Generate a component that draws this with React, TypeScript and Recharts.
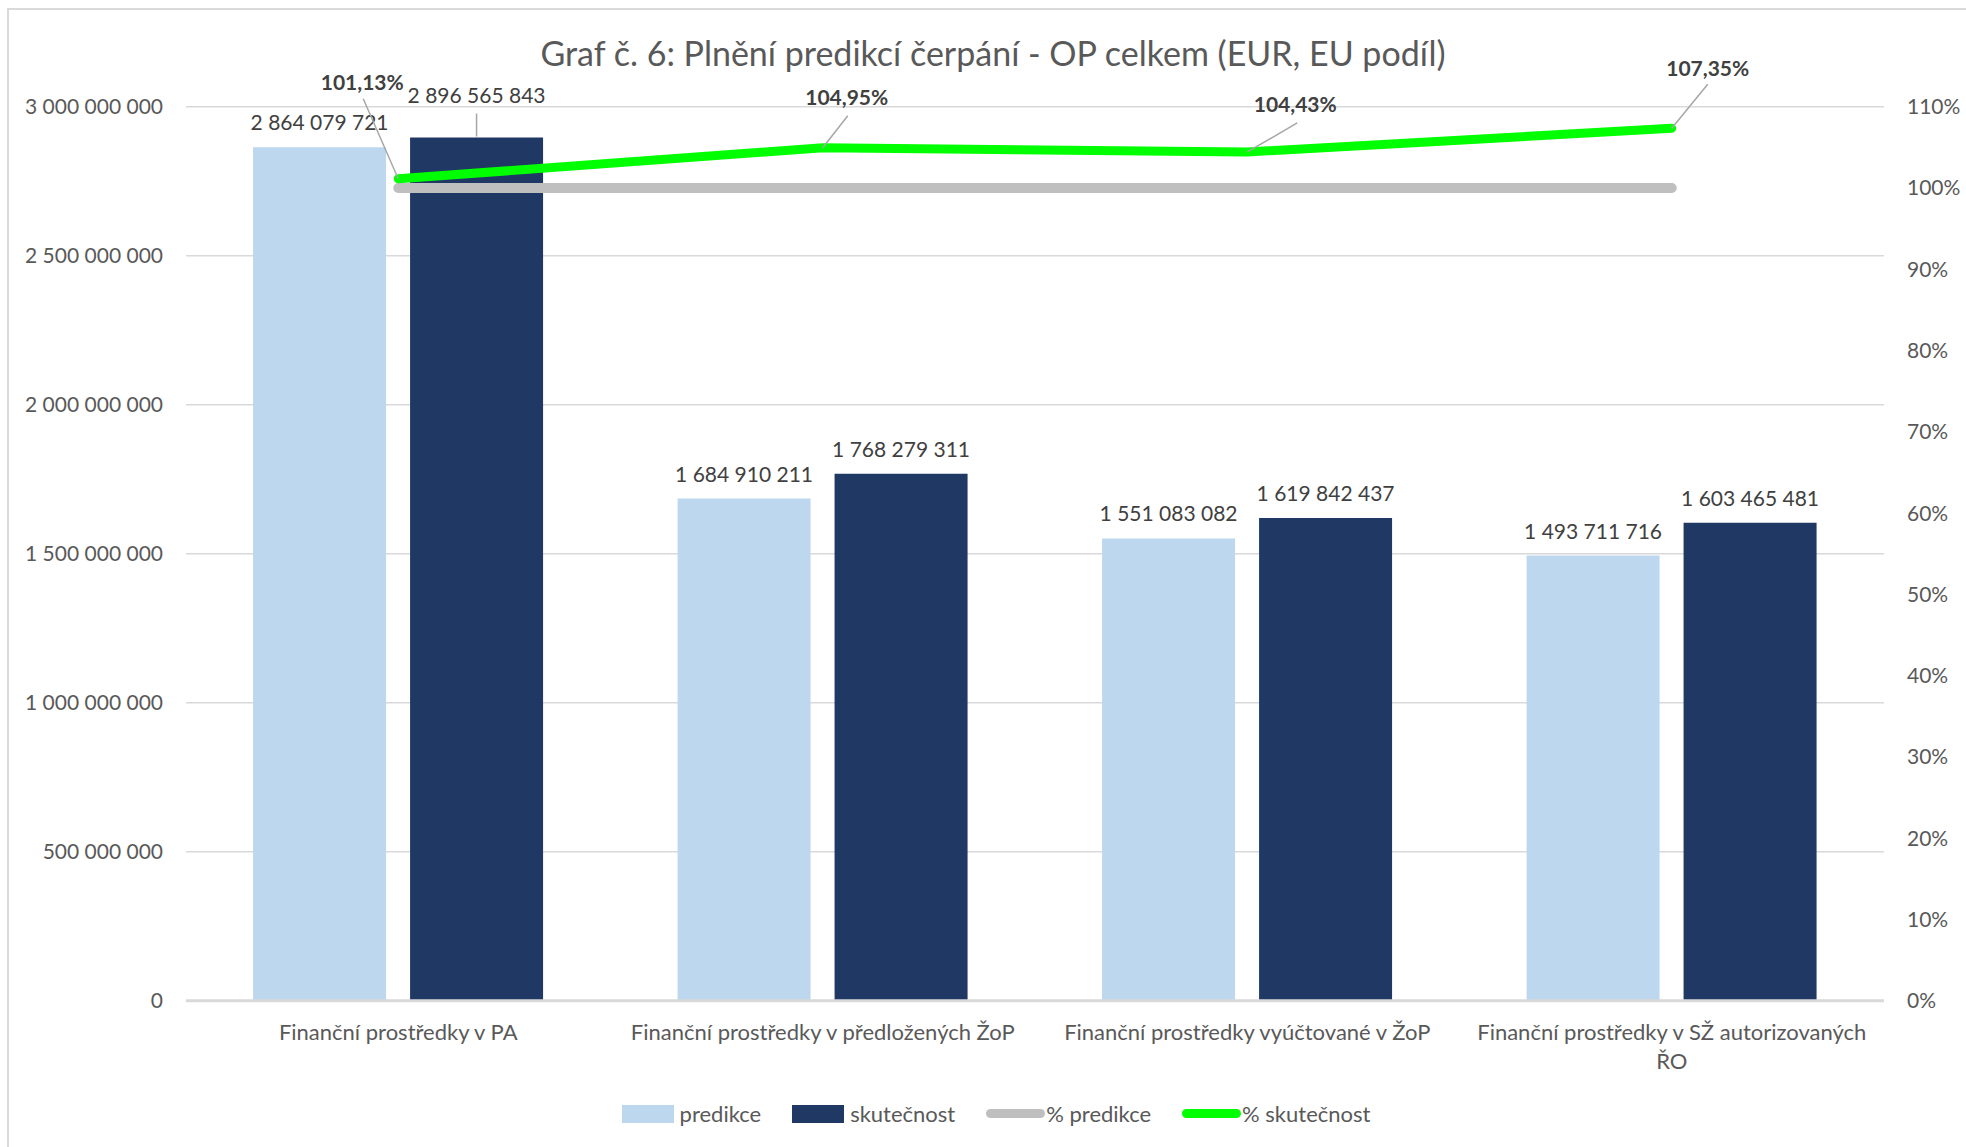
import {
  Bar,
  CartesianGrid,
  ComposedChart,
  LabelList,
  Legend,
  Line,
  XAxis,
  YAxis,
} from "recharts";

const CATEGORIES = [
  "Finanční prostředky v PA",
  "Finanční prostředky v předložených ŽoP",
  "Finanční prostředky vyúčtované v ŽoP",
  "Finanční prostředky v SŽ autorizovaných ŘO",
];
const PREDIKCE = [2864079721, 1684910211, 1551083082, 1493711716];
const SKUTECNOST = [2896565843, 1768279311, 1619842437, 1603465481];
const PCT_PREDIKCE = [100, 100, 100, 100];
const PCT_SKUTECNOST = [101.13, 104.95, 104.43, 107.35];
const LEFT_TICKS = [0, 500000000, 1000000000, 1500000000, 2000000000, 2500000000, 3000000000];
const RIGHT_TICKS = [0, 10, 20, 30, 40, 50, 60, 70, 80, 90, 100, 110];

const TITLE = "Graf č. 6: Plnění predikcí čerpání - OP celkem (EUR, EU podíl)";

// label placement (px), not data
const PCT_LABEL_POS = [
  { dx: -36, dy: -97, lx: -35, ly: -80 },
  { dx: 24, dy: -51, lx: 25, ly: -32 },
  { dx: 48, dy: -48, lx: 50, ly: -29 },
  { dx: 36, dy: -61, lx: 36, ly: -44 },
];
const SKUT_LIFT = [18, 0, 0, 0];

const FONT = "Lato, 'Open Sans', sans-serif";
const TEXT = "#595959";
const LABEL = "#404040";
const GRID = "#d9d9d9";
const LEADER = "#a6a6a6";

const COLORS = {
  predikce: "#BDD7EE",
  skutecnost: "#203864",
  pctPredikce: "#BFBFBF",
  pctSkutecnost: "#00FF00",
};

const data = CATEGORIES.map((name, i) => ({
  name,
  predikce: PREDIKCE[i],
  skutecnost: SKUTECNOST[i],
  pctPredikce: PCT_PREDIKCE[i],
  pctSkutecnost: PCT_SKUTECNOST[i],
}));

const fmtNum = (v: number) => String(Math.round(v)).replace(/\B(?=(\d{3})+(?!\d))/g, " ");
const fmtPct = (v: number) => `${v.toFixed(2).replace(".", ",")}%`;

let measureCtx: CanvasRenderingContext2D | null = null;
function wrapWords(text: string, maxWidth: number, font: string) {
  if (!measureCtx) measureCtx = document.createElement("canvas").getContext("2d");
  if (!measureCtx) return [text];
  measureCtx.font = font;
  const lines: string[] = [];
  let current = "";
  text.split(" ").forEach((word) => {
    const next = current ? `${current} ${word}` : word;
    if (current && measureCtx!.measureText(next).width > maxWidth) {
      lines.push(current);
      current = word;
    } else {
      current = next;
    }
  });
  if (current) lines.push(current);
  return lines;
}

function barLabel(lift: number[]) {
  return (props: any) => {
    const vb = props.viewBox ?? props;
    const cx = vb.x + vb.width / 2;
    const extra = lift[props.index] ?? 0;
    const base = vb.y - 17 - extra;
    return (
      <g>
        {extra > 0 && (
          <line x1={cx} x2={cx} y1={vb.y - 1} y2={base + 11} stroke={LEADER} strokeWidth={1.5} />
        )}
        <text x={cx} y={base} textAnchor="middle" fill={LABEL} fontSize={21} fontFamily={FONT}>
          {fmtNum(props.value)}
        </text>
      </g>
    );
  };
}

function pctLabel(props: any) {
  const vb = props.viewBox ?? props;
  const pos = PCT_LABEL_POS[props.index];
  if (!pos) return null;
  return (
    <g>
      <line
        x1={vb.x + pos.lx}
        y1={vb.y + pos.ly}
        x2={vb.x}
        y2={vb.y}
        stroke={LEADER}
        strokeWidth={1.5}
      />
      <text
        x={vb.x + pos.dx}
        y={vb.y + pos.dy}
        textAnchor="middle"
        dominantBaseline="central"
        fill={LABEL}
        fontSize={21}
        fontWeight={700}
        fontFamily={FONT}
      >
        {fmtPct(props.value)}
      </text>
    </g>
  );
}

function CategoryTick(props: any) {
  const { x, y, payload } = props;
  const lines = wrapWords(String(payload.value), 400, "22px Lato");
  return (
    <text x={x} y={y} textAnchor="middle" fill={TEXT} fontSize={22} fontFamily={FONT}>
      {lines.map((line, i) => (
        <tspan key={i} x={x} dy={i === 0 ? 16 : 29}>
          {line}
        </tspan>
      ))}
    </text>
  );
}

const LEGEND_ITEMS = [
  { key: "predikce", label: "predikce", kind: "box" },
  { key: "skutecnost", label: "skutečnost", kind: "box" },
  { key: "pctPredikce", label: "% predikce", kind: "line" },
  { key: "pctSkutecnost", label: "% skutečnost", kind: "line" },
];

function renderLegend() {
  return (
    <div
      style={{
        display: "flex",
        justifyContent: "center",
        alignItems: "center",
        gap: 31,
        fontFamily: FONT,
        fontSize: 22,
        color: TEXT,
        paddingLeft: 26,
      }}
    >
      {LEGEND_ITEMS.map((item) => (
        <div key={item.key} style={{ display: "flex", alignItems: "center", gap: item.kind === "box" ? 6 : 1 }}>
          {item.kind === "box" ? (
            <span
              style={{
                display: "inline-block",
                width: 52,
                height: 18,
                background: (COLORS as any)[item.key],
              }}
            />
          ) : (
            <span
              style={{
                display: "inline-block",
                width: 59,
                height: 9,
                borderRadius: 5,
                background: (COLORS as any)[item.key],
              }}
            />
          )}
          <span>{item.label}</span>
        </div>
      ))}
    </div>
  );
}

export default function App() {
  return (
    <div
      style={{
        position: "absolute",
        left: 0,
        top: 0,
        width: 1966,
        height: 1147,
        background: "#fff",
        overflow: "hidden",
      }}
    >
      <div
        style={{
          position: "absolute",
          left: 7,
          top: 8,
          width: 1980,
          height: 1160,
          border: `2px solid ${GRID}`,
        }}
      />
      <div
        style={{
          position: "absolute",
          left: 0,
          top: 32,
          width: 1986,
          textAlign: "center",
          fontFamily: FONT,
          fontSize: 34,
          color: TEXT,
          lineHeight: "42px",
        }}
      >
        {TITLE}
      </div>
      <div style={{ position: "absolute", left: 0, top: 0 }}>
        <ComposedChart
          width={1966}
          height={1147}
          data={data}
          margin={{ top: 106.7, right: 0, bottom: 56.3, left: 0 }}
          barCategoryGap="15.8%"
          barGap={24}
        >
          <CartesianGrid
            yAxisId="left"
            horizontal
            vertical={false}
            stroke={GRID}
            strokeWidth={1.5}
          />
          <XAxis
            dataKey="name"
            height={60}
            tickLine={false}
            axisLine={{ stroke: GRID, strokeWidth: 3 }}
            tickMargin={17}
            tick={<CategoryTick />}
            interval={0}
          />
          <YAxis
            yAxisId="left"
            width={186}
            domain={[0, 3000000000]}
            ticks={LEFT_TICKS}
            tickFormatter={fmtNum}
            axisLine={false}
            tickLine={false}
            tickMargin={17}
            tick={{ fill: TEXT, fontSize: 21, fontFamily: FONT }}
          />
          <YAxis
            yAxisId="right"
            orientation="right"
            width={82}
            domain={[0, 110]}
            ticks={RIGHT_TICKS}
            tickFormatter={(v: number) => `${v}%`}
            axisLine={false}
            tickLine={false}
            tickMargin={17}
            tick={{ fill: TEXT, fontSize: 21, fontFamily: FONT, textAnchor: "start" }}
          />
          <Legend
            verticalAlign="bottom"
            content={renderLegend}
            wrapperStyle={{ top: 1100, bottom: "auto", left: 0, width: 1966, height: 30 }}
          />
          <Bar yAxisId="left" dataKey="predikce" name="predikce" fill={COLORS.predikce} isAnimationActive={false}>
            <LabelList dataKey="predikce" content={barLabel([0, 0, 0, 0])} />
          </Bar>
          <Bar yAxisId="left" dataKey="skutecnost" name="skutečnost" fill={COLORS.skutecnost} isAnimationActive={false}>
            <LabelList dataKey="skutecnost" content={barLabel(SKUT_LIFT)} />
          </Bar>
          <Line
            yAxisId="right"
            dataKey="pctPredikce"
            name="% predikce"
            stroke={COLORS.pctPredikce}
            strokeWidth={10}
            strokeLinecap="round"
            strokeLinejoin="round"
            dot={false}
            activeDot={false}
            isAnimationActive={false}
          />
          <Line
            yAxisId="right"
            dataKey="pctSkutecnost"
            name="% skutečnost"
            stroke={COLORS.pctSkutecnost}
            strokeWidth={9}
            strokeLinecap="round"
            strokeLinejoin="round"
            dot={false}
            activeDot={false}
            isAnimationActive={false}
          >
            <LabelList dataKey="pctSkutecnost" content={pctLabel} />
          </Line>
        </ComposedChart>
      </div>
    </div>
  );
}
